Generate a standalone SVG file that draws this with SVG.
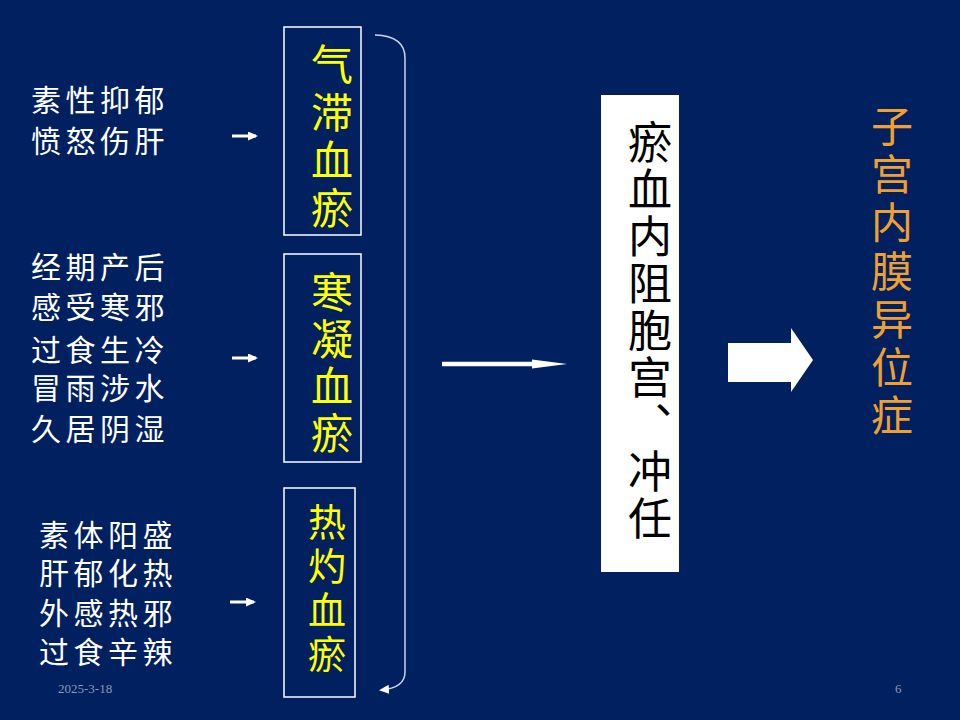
<svg xmlns="http://www.w3.org/2000/svg" width="960" height="720" viewBox="0 0 960 720">
<style>
.cn{font-family:"Noto Sans CJK SC","Noto Sans CJK TC",sans-serif;}
.left{fill:#FFFFFF;font-size:30px;letter-spacing:4.5px;}
.vert{writing-mode:vertical-rl;text-orientation:upright;}
.yel{fill:#FFFF00;font-size:42px;}
.blk{fill:#000000;font-size:44px;letter-spacing:3px;}
.org{fill:#F0A030;font-size:42px;letter-spacing:6.2px;}
.box{fill:none;stroke:#FFFFFF;stroke-width:1.5;}
.foot{font-family:"Liberation Serif",serif;font-size:13px;fill:#8C9AB8;}
</style>
<defs>
<marker id="ah" markerWidth="11" markerHeight="10" refX="8" refY="4.5" orient="auto" markerUnits="userSpaceOnUse">
<path d="M0,0 L10,4.5 L0,9 Z" fill="#FFFFFF"/>
</marker>
</defs>
<rect x="0" y="0" width="960" height="720" fill="#002060"/>

<g id="cause1">
<text class="cn left"><tspan x="31" y="111">素性抑郁</tspan><tspan x="31" y="152">愤怒伤肝</tspan></text>
</g>
<g id="cause2">
<text class="cn left"><tspan x="31" y="278">经期产后</tspan><tspan x="31" y="318">感受寒邪</tspan><tspan x="31" y="361">过食生冷</tspan><tspan x="31" y="399">冒雨涉水</tspan><tspan x="31" y="440">久居阴湿</tspan></text>
</g>
<g id="cause3">
<text class="cn left"><tspan x="39" y="546">素体阳盛</tspan><tspan x="39" y="584">肝郁化热</tspan><tspan x="39" y="624">外感热邪</tspan><tspan x="39" y="663">过食辛辣</tspan></text>
</g>

<g id="box1">
<rect class="box" x="284" y="27" width="77" height="208"/>
<text class="cn yel vert" x="332" y="43" style="letter-spacing:6px">气滞血瘀</text>
</g>
<g id="box2">
<rect class="box" x="284" y="254" width="77" height="208"/>
<text class="cn yel vert" x="332" y="271" style="letter-spacing:5px">寒凝血瘀</text>
</g>
<g id="box3">
<rect class="box" x="284" y="488" width="71" height="209"/>
<text class="cn yel vert" x="327" y="503" style="font-size:38px;letter-spacing:5.7px">热灼血瘀</text>
</g>

<g id="center">
<rect x="601" y="95" width="78" height="477" fill="#FFFFFF"/>
<text class="cn blk vert" x="650" y="120">瘀血内阻胞宫、冲任</text>
</g>

<g id="result">
<text class="cn org vert" x="892" y="105">子宫内膜异位症</text>
</g>

<g id="connectors">
<line x1="232" y1="136" x2="256" y2="136" stroke="#FFFFFF" stroke-width="3" marker-end="url(#ah)"/>
<line x1="232" y1="358" x2="256" y2="358" stroke="#FFFFFF" stroke-width="3" marker-end="url(#ah)"/>
<line x1="230" y1="602" x2="254" y2="602" stroke="#FFFFFF" stroke-width="3" marker-end="url(#ah)"/>
<path d="M375,35 Q405,36 405,58 L405,672 Q405,688 381,690" fill="none" stroke="#C8D4F0" stroke-width="1.5" marker-end="url(#ah)"/>
<line x1="442" y1="364" x2="534" y2="364" stroke="#FFFFFF" stroke-width="4.5"/>
<polygon points="532,359.5 567,364 532,368.5" fill="#FFFFFF"/>
<polygon points="728,343 791,343 791,328 813,360 791,392 791,382 728,382" fill="#FFFFFF"/>
</g>

<text class="foot" x="58" y="693">2025-3-18</text>
<text class="foot" x="895" y="693">6</text>
</svg>
